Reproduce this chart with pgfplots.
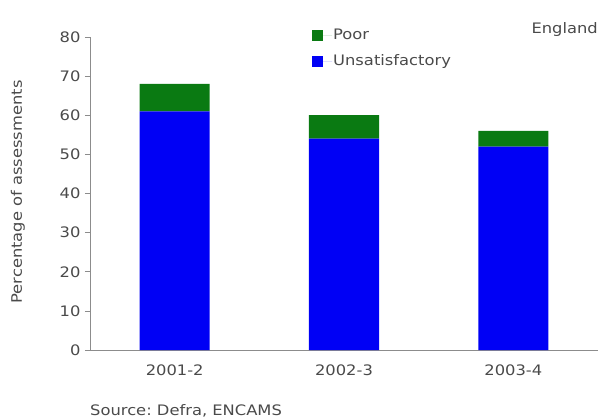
\documentclass[border=0pt]{standalone}
\usepackage{pgfplots}
\pgfplotsset{compat=1.18}
\usepackage{fontspec}
\setmainfont{DejaVu Sans}[FakeStretch=1.13]
\definecolor{txt}{HTML}{4A4A4A}
\definecolor{axisgray}{HTML}{8C8C8C}
\definecolor{unsat}{HTML}{0000F5}
\definecolor{poor}{HTML}{0A7A12}
\newcommand{\lblfont}{\fontsize{14.5}{16}\selectfont}
\begin{document}
\begin{tikzpicture}
\path[use as bounding box] (-90bp,-70bp) rectangle (513bp,350bp);
\begin{axis}[
  at={(0,0)}, anchor=south west,
  scale only axis, width=508bp, height=313bp,
  ybar stacked, bar width=70bp,
  xmin=-0.5, xmax=2.5, ymin=0, ymax=80,
  ytick={0,10,...,80},
  xtick={0,1,2},
  xticklabels={2001-2,2002-3,2003-4},
  extra x ticks={0.5,1.5},
  extra x tick labels={},
  extra x tick style={major tick length=4bp},
  major tick length=5bp,
  tick align=outside,
  x tick style={draw=none},
  y tick style={axisgray, line width=0.6pt},
  axis x line*=bottom, axis y line*=left,
  axis line style={axisgray, line width=0.8pt, -},
  tick label style={font=\lblfont, text=txt},
  yticklabel style={xshift=-1bp},
  xticklabel style={yshift=-6bp},
  /pgf/number format/assume math mode=true,
  ylabel={Percentage of assessments},
  every axis y label/.style={at={(axis description cs:-0.142,0.505)}, rotate=90,
    anchor=center, font=\lblfont, text=txt},
  legend style={at={(0.437,1.03)}, anchor=north west, draw=none, fill=none,
    font=\lblfont, text=txt, row sep=10bp, inner sep=0pt,
    legend cell align=left,
    nodes={inner sep=1bp, text height=11bp, text depth=3bp}},
  legend image code/.code={%
    \path (0bp,0bp) -- (20bp,0bp);
    \fill[#1] (0bp,-5.5bp) rectangle (11bp,5.5bp);},
  reverse legend,
  clip=false,
]
\addplot[fill=unsat, draw=none] coordinates {(0,61) (1,54) (2,52)};
\addplot[fill=poor, draw=none] coordinates {(0,7) (1,6) (2,4)};
\legend{Unsatisfactory, Poor}
\node[anchor=east, font=\lblfont, text=txt, inner sep=0pt]
  at (rel axis cs:1,1) [yshift=7bp] {England};
\node[anchor=west, font=\lblfont, text=txt, inner sep=0pt]
  at (rel axis cs:0,0) [yshift=-61bp] {Source:\ Defra,\ ENCAMS};
\end{axis}
\end{tikzpicture}
\end{document}
